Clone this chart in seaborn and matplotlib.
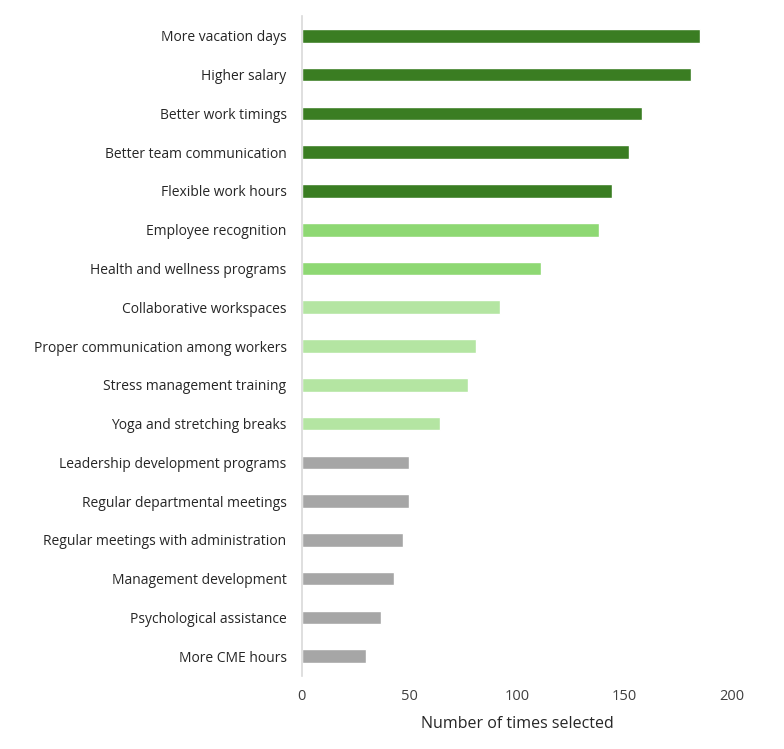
import matplotlib
matplotlib.use("Agg")
import matplotlib.pyplot as plt
import seaborn as sns
import pandas as pd

categories = [
    "More vacation days", "Higher salary", "Better work timings",
    "Better team communication", "Flexible work hours", "Employee recognition",
    "Health and wellness programs", "Collaborative workspaces",
    "Proper communication among workers", "Stress management training",
    "Yoga and stretching breaks", "Leadership development programs",
    "Regular departmental meetings", "Regular meetings with administration",
    "Management development", "Psychological assistance", "More CME hours",
]
values = [185, 181, 158, 152, 144, 138, 111, 92, 81, 77, 64, 50, 50, 47, 43, 37, 30]
groups = ["top"] * 5 + ["mid"] * 2 + ["low"] * 4 + ["other"] * 6
palette = {"top": "#3a7d22", "mid": "#8ed873", "low": "#b4e5a2", "other": "#a6a6a6"}
xticks = [0, 50, 100, 150, 200]

df = pd.DataFrame({"category": categories, "value": values, "group": groups})

sns.set_theme(style="white")
plt.rcParams["font.family"] = ["Open Sans", "DejaVu Sans"]

fig = plt.figure(figsize=(7.84, 7.49), dpi=100)
ax = fig.add_axes([0.385, 0.098, 0.549, 0.880])
sns.barplot(data=df, x="value", y="category", hue="group", palette=palette,
            dodge=False, legend=False, width=0.35, saturation=1, ax=ax, orient="h")

ax.set_xlim(0, 200)
ax.set_xticks(xticks)
ax.set_xticklabels([str(t) for t in xticks], fontsize=10.5, color="#404040")
ax.set_ylabel("")
ax.set_xlabel("Number of times selected", fontsize=11.5, color="#262626", labelpad=8)
ax.tick_params(axis="y", labelsize=10, colors="#262626", length=0, pad=11)
ax.tick_params(axis="x", length=0, pad=10)
for s in ["top", "right", "bottom"]:
    ax.spines[s].set_visible(False)
ax.spines["left"].set_color("#d9d9d9")
ax.spines["left"].set_linewidth(1.2)

fig.savefig("out.png", dpi=100, facecolor="white")
